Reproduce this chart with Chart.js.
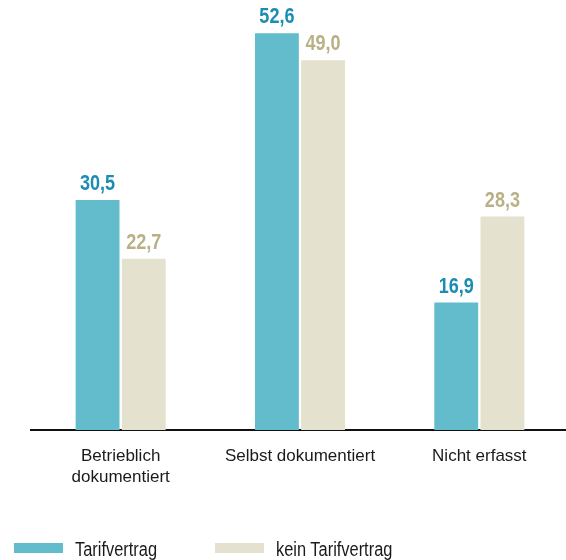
<!DOCTYPE html>
<html>
<head>
<meta charset="utf-8">
<script src="https://cdn.jsdelivr.net/npm/chart.js@4.4.1/dist/chart.umd.min.js"></script>
<style>
  html, body { margin: 0; padding: 0; background: #fff; overflow: hidden; }
  #wrap { position: relative; width: 566px; height: 560px; overflow: hidden; }
  #legend { position: absolute; left: 0; top: 538px; width: 566px; height: 22px;
            font-family: 'Liberation Sans', Arial, sans-serif; font-size: 20px; color: #1a1a1a; }
  .item { position: absolute; top: 0; line-height: 22px; white-space: nowrap;
          transform: scaleX(0.82); transform-origin: left center; }
  .box { position: absolute; top: 5px; width: 49px; height: 10px; }
</style>
</head>
<body>
<div id="wrap">
  <canvas id="chart" width="572" height="560"></canvas>
  <div id="legend"></div>
</div>
<script>
var categories = [['Betrieblich', 'dokumentiert'], 'Selbst dokumentiert', 'Nicht erfasst'];
var seriesNames = ['Tarifvertrag', 'kein Tarifvertrag'];
var tarif = [30.5, 52.6, 16.9];
var keinTarif = [22.7, 49.0, 28.3];

var barColors = ['#62bccb', '#e4e1ce'];
var labelColors = ['#1b8db3', '#b9b185'];
var font = "'Liberation Sans', Arial, sans-serif";

// value labels above the bars, German decimal comma, squeezed like a narrow face
var valueLabels = {
  id: 'valueLabels',
  afterDatasetsDraw: function(chart) {
    var ctx = chart.ctx;
    var sx = 0.82;
    ctx.save();
    ctx.font = 'bold 22px ' + font;
    ctx.textAlign = 'center';
    ctx.textBaseline = 'alphabetic';
    chart.data.datasets.forEach(function(ds, i) {
      var meta = chart.getDatasetMeta(i);
      ctx.fillStyle = labelColors[i];
      meta.data.forEach(function(bar, j) {
        ctx.save();
        ctx.translate(bar.x, bar.y - 10);
        ctx.scale(sx, 1);
        ctx.fillText(ds.data[j].toFixed(1).replace('.', ','), 0, 0);
        ctx.restore();
      });
    });
    ctx.restore();
  }
};

var ctx = document.getElementById('chart');
var chart = new Chart(ctx, {
  type: 'bar',
  data: {
    labels: categories,
    datasets: [
      { label: seriesNames[0], data: tarif, backgroundColor: barColors[0] },
      { label: seriesNames[1], data: keinTarif, backgroundColor: barColors[1] }
    ]
  },
  options: {
    responsive: false,
    animation: false,
    layout: { padding: { left: 31, right: 3, top: 0, bottom: 0 } },
    plugins: { legend: { display: false }, tooltip: { enabled: false } },
    datasets: { bar: { categoryPercentage: 0.515, barPercentage: 0.95 } },
    scales: {
      x: {
        grid: { display: false, drawTicks: false },
        border: { display: true, color: '#111', width: 2 },
        ticks: {
          color: '#1a1a1a',
          padding: 16,
          maxRotation: 0,
          minRotation: 0,
          autoSkip: false,
          font: { family: font, size: 17, lineHeight: 1.24 }
        },
        afterFit: function(scale) {
          scale.height = 130;
          scale.paddingLeft = 0;
          scale.paddingRight = 0;
        }
      },
      y: {
        display: false,
        min: 0,
        max: 57
      }
    }
  },
  plugins: [valueLabels]
});

// legend row below the chart
var legend = document.getElementById('legend');
var boxX = [14, 215];
seriesNames.forEach(function(name, i) {
  var box = document.createElement('div');
  box.className = 'box';
  box.style.left = boxX[i] + 'px';
  box.style.background = barColors[i];
  legend.appendChild(box);
  var txt = document.createElement('div');
  txt.className = 'item';
  txt.style.left = (boxX[i] + 61) + 'px';
  txt.textContent = name;
  legend.appendChild(txt);
});
</script>
</body>
</html>
